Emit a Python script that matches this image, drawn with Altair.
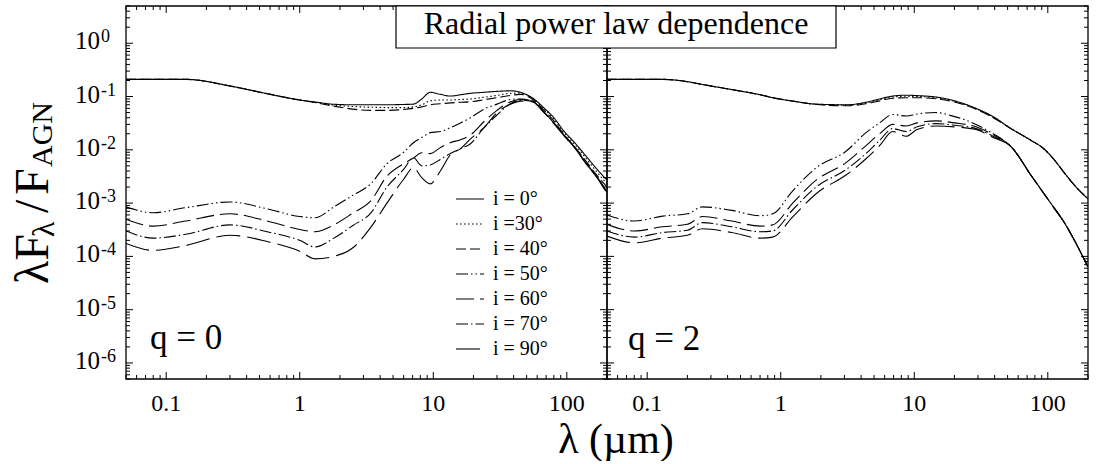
import altair as alt
import pandas as pd

FONT = "Liberation Serif"
W, H = 481, 373
XDOM = [0.05, 200]
YDOM = [5e-7, 5]

series = ["i = 0°", "i =30°", "i = 40°", "i = 50°", "i = 60°", "i = 70°", "i = 90°"]
dash_styles = [[1, 0], [1.5, 2.5], [10, 4], [12, 3, 1.5, 3, 1.5, 3], [18, 6], [12, 3, 1.5, 3], [24, 7]]

# ---------- q = 0 panel ----------
wl_q0 = [0.05, 0.08, 0.14, 0.3, 0.57, 1.0, 1.3, 1.8, 2.5, 3.4, 4.5, 6.0, 7.1, 8.2, 9.5, 11.3,
         13.4, 16, 19, 24, 30, 38, 45, 55, 67, 80, 95, 115, 140, 170, 200]
q0_i0 = [0.21, 0.21, 0.21, 0.158, 0.113, 0.086, 0.079, 0.0716, 0.070, 0.070, 0.070, 0.071, 0.072,
         0.09, 0.12, 0.11, 0.102, 0.108, 0.115, 0.12, 0.125, 0.128, 0.12, 0.095, 0.062, 0.04,
         0.0226, 0.0135, 0.0075, 0.0042, 0.0027]
q0_i30 = [0.21, 0.21, 0.21, 0.158, 0.113, 0.086, 0.078, 0.069, 0.065, 0.063, 0.062, 0.062, 0.064,
          0.07, 0.083, 0.086, 0.086, 0.088, 0.09, 0.097, 0.105, 0.115, 0.116, 0.093, 0.06, 0.038,
          0.021, 0.0125, 0.0068, 0.0037, 0.0023]
q0_i40 = [0.21, 0.21, 0.21, 0.158, 0.113, 0.086, 0.077, 0.066, 0.058, 0.055, 0.055, 0.057, 0.06,
          0.064, 0.07, 0.073, 0.076, 0.078, 0.08, 0.087, 0.095, 0.105, 0.11, 0.09, 0.056, 0.035,
          0.0195, 0.0112, 0.006, 0.0032, 0.002]
q0_i50 = [8.5e-4, 6.6e-4, 8.2e-4, 1.05e-3, 7.8e-4, 5.6e-4, 5.3e-4, 8.5e-4, 1.4e-3, 2.3e-3, 5.5e-3,
          9e-3, 0.0136, 0.017, 0.021, 0.022, 0.026, 0.032, 0.040, 0.058, 0.072, 0.088, 0.09, 0.082,
          0.052, 0.032, 0.019, 0.011, 0.0055, 0.003, 0.0016]
q0_i60 = [5.0e-4, 3.7e-4, 4.6e-4, 6.3e-4, 4.6e-4, 3.2e-4, 2.9e-4, 3.9e-4, 6.5e-4, 1.1e-3, 3.2e-3,
          5.5e-3, 7.0e-3, 8.8e-3, 8.5e-3, 0.011, 0.0136, 0.0155, 0.019, 0.034, 0.055, 0.08, 0.088,
          0.082, 0.052, 0.032, 0.019, 0.011, 0.0055, 0.003, 0.0016]
q0_i70 = [3.0e-4, 2.2e-4, 2.6e-4, 3.9e-4, 2.9e-4, 2.0e-4, 1.5e-4, 2.2e-4, 3.8e-4, 6.5e-4, 2.0e-3,
          4.3e-3, 7.1e-3, 5.0e-3, 5.2e-3, 6.6e-3, 8.5e-3, 0.0105, 0.013, 0.026, 0.045, 0.074, 0.085,
          0.082, 0.052, 0.032, 0.019, 0.011, 0.0055, 0.003, 0.0016]
q0_i90 = [1.75e-4, 1.3e-4, 1.6e-4, 2.5e-4, 1.9e-4, 1.25e-4, 9.0e-5, 1.0e-4, 1.45e-4, 3.5e-4, 1.0e-3,
          2.8e-3, 4.6e-3, 3.0e-3, 2.3e-3, 4.0e-3, 8.0e-3, 0.0105, 0.016, 0.026, 0.05, 0.072, 0.082,
          0.08, 0.051, 0.031, 0.0185, 0.0107, 0.0054, 0.0029, 0.0015]

# ---------- q = 2 panel ----------
wl_q2 = [0.05, 0.08, 0.13, 0.2, 0.26, 0.43, 0.7, 0.87, 1.23, 1.84, 3.1, 4.35, 5.5, 6.9, 8.7, 10.5,
         14.5, 20, 29, 39, 53, 75, 92, 110, 133, 160, 200]
q2_i0 = [0.21, 0.21, 0.21, 0.19, 0.168, 0.135, 0.108, 0.095, 0.082, 0.072, 0.07, 0.078, 0.09, 0.102,
         0.106, 0.104, 0.098, 0.083, 0.06, 0.042, 0.025, 0.015, 0.0108, 0.0068, 0.0037, 0.0021, 0.0012]
q2_i30 = [0.21, 0.21, 0.21, 0.19, 0.168, 0.135, 0.108, 0.095, 0.082, 0.072, 0.069, 0.076, 0.087, 0.098,
          0.101, 0.1, 0.095, 0.081, 0.059, 0.041, 0.025, 0.015, 0.0108, 0.0068, 0.0037, 0.0021, 0.0012]
q2_i40 = [0.21, 0.21, 0.21, 0.19, 0.168, 0.135, 0.108, 0.095, 0.082, 0.071, 0.067, 0.073, 0.083, 0.093,
          0.095, 0.095, 0.091, 0.079, 0.058, 0.04, 0.025, 0.015, 0.0108, 0.0068, 0.0037, 0.0021, 0.0012]
q2_i50 = [6.0e-4, 4.6e-4, 5.7e-4, 6.3e-4, 8.5e-4, 7.3e-4, 5.8e-4, 6.3e-4, 1.7e-3, 4.6e-3, 9.5e-3, 0.021,
          0.032, 0.046, 0.043, 0.047, 0.050, 0.042, 0.030, 0.02, 0.0115, 0.0033, 0.0016, 8.5e-4,
          4.3e-4, 1.9e-4, 6.3e-5]
q2_i60 = [4.0e-4, 3.0e-4, 3.6e-4, 4.0e-4, 5.6e-4, 4.6e-4, 3.7e-4, 3.9e-4, 1.0e-3, 2.7e-3, 5.8e-3, 0.012,
          0.02, 0.03, 0.028, 0.032, 0.035, 0.032, 0.027, 0.019, 0.0115, 0.0033, 0.0016, 8.5e-4,
          4.3e-4, 1.9e-4, 6.3e-5]
q2_i70 = [3.0e-4, 2.3e-4, 2.8e-4, 3.1e-4, 4.3e-4, 3.6e-4, 2.9e-4, 3.0e-4, 7.5e-4, 2.0e-3, 4.3e-3, 8.5e-3,
          0.015, 0.025, 0.022, 0.027, 0.031, 0.029, 0.025, 0.018, 0.0115, 0.0033, 0.0016, 8.5e-4,
          4.3e-4, 1.9e-4, 6.3e-5]
q2_i90 = [2.4e-4, 1.8e-4, 2.2e-4, 2.5e-4, 3.3e-4, 2.8e-4, 2.2e-4, 2.3e-4, 5.5e-4, 1.5e-3, 3.4e-3, 6.8e-3,
          0.012, 0.022, 0.018, 0.024, 0.028, 0.027, 0.024, 0.017, 0.0115, 0.0033, 0.0016, 8.5e-4,
          4.3e-4, 1.9e-4, 6.3e-5]

# ---------- tick values and labels ----------
x_major = [0.1, 1, 10, 100]
x_labels = ["0.1", "1", "10", "100"]
x_minor = [0.05, 0.06, 0.07, 0.08, 0.09, 0.2, 0.3, 0.4, 0.5, 0.6, 0.7, 0.8, 0.9,
           2, 3, 4, 5, 6, 7, 8, 9, 20, 30, 40, 50, 60, 70, 80, 90, 200]
y_major = [1e-6, 1e-5, 1e-4, 1e-3, 1e-2, 1e-1, 1]
y_exp = ["-6", "-5", "-4", "-3", "-2", "-1", "0"]
y_minor = [5e-7, 6e-7, 7e-7, 8e-7, 9e-7] + \
          [2e-6, 3e-6, 4e-6, 5e-6, 6e-6, 7e-6, 8e-6, 9e-6] + \
          [2e-5, 3e-5, 4e-5, 5e-5, 6e-5, 7e-5, 8e-5, 9e-5] + \
          [2e-4, 3e-4, 4e-4, 5e-4, 6e-4, 7e-4, 8e-4, 9e-4] + \
          [2e-3, 3e-3, 4e-3, 5e-3, 6e-3, 7e-3, 8e-3, 9e-3] + \
          [0.02, 0.03, 0.04, 0.05, 0.06, 0.07, 0.08, 0.09] + \
          [0.2, 0.3, 0.4, 0.5, 0.6, 0.7, 0.8, 0.9] + [2, 3, 4, 5]


def long_df(wl, cols):
    rows = []
    for name, ys in zip(series, cols):
        for x, y in zip(wl, ys):
            rows.append({"wl": x, "flux": y, "series": name})
    return pd.DataFrame(rows)


df_q0 = long_df(wl_q0, [q0_i0, q0_i30, q0_i40, q0_i50, q0_i60, q0_i70, q0_i90])
df_q2 = long_df(wl_q2, [q2_i0, q2_i30, q2_i40, q2_i50, q2_i60, q2_i70, q2_i90])

XS = alt.Scale(type="log", domain=XDOM, nice=False)
YS = alt.Scale(type="log", domain=YDOM, nice=False)


def one(text):
    return pd.DataFrame({"t": [text]})


def text_mark(text, x, y, size, align="left", angle=0, baseline="alphabetic"):
    return alt.Chart(one(text)).mark_text(
        font=FONT, fontSize=size, color="black", align=align, baseline=baseline, angle=angle
    ).encode(x=alt.value(x), y=alt.value(y), text="t:N")


def tick_layers():
    layers = []
    for vals, ln in ((x_major, 7), (x_minor, 4)):
        d = pd.DataFrame({"v": vals})
        for y0, y1 in ((H, H - ln), (0, ln)):
            layers.append(alt.Chart(d).mark_rule(color="black", strokeWidth=1).encode(
                x=alt.X("v:Q", scale=XS, axis=None), y=alt.value(y0), y2=alt.value(y1)))
    for vals, ln in ((y_major, 7), (y_minor, 4)):
        d = pd.DataFrame({"v": vals})
        for x0, x1 in ((0, ln), (W, W - ln)):
            layers.append(alt.Chart(d).mark_rule(color="black", strokeWidth=1).encode(
                y=alt.Y("v:Q", scale=YS, axis=None), x=alt.value(x0), x2=alt.value(x1)))
    xl = pd.DataFrame({"v": x_major, "lab": x_labels})
    layers.append(alt.Chart(xl).mark_text(font=FONT, fontSize=24, color="black", align="center",
                                          baseline="alphabetic").encode(
        x=alt.X("v:Q", scale=XS, axis=None), y=alt.value(H + 32), text="lab:N"))
    return layers


def frame():
    return alt.Chart(one("f")).mark_rect(filled=False, stroke="black", strokeWidth=1.3).encode(
        x=alt.value(0), x2=alt.value(W), y=alt.value(0), y2=alt.value(H))


def lines(df, legend):
    return alt.Chart(df).mark_line(strokeWidth=1.1, color="black", clip=True,
                                   interpolate="monotone").encode(
        x=alt.X("wl:Q", scale=XS, axis=None),
        y=alt.Y("flux:Q", scale=YS, axis=None),
        strokeDash=alt.StrokeDash("series:N", scale=alt.Scale(domain=series, range=dash_styles),
                                  legend=legend),
    )


legend_left = alt.Legend(orient="none", legendX=329, legendY=178, title=None, symbolType="stroke",
                         symbolSize=784, symbolStrokeWidth=1.1, symbolStrokeColor="black",
                         labelFont=FONT, labelFontSize=20, labelColor="black", rowPadding=0,
                         labelOffset=8, padding=0)

# y tick labels (10 with superscript exponent)
ylab_df = pd.DataFrame({"v": y_major, "exp": y_exp})
ylab_base = alt.Chart(ylab_df).mark_text(font=FONT, fontSize=25, color="black", align="right",
                                         baseline="alphabetic", dy=6).encode(
    y=alt.Y("v:Q", scale=YS, axis=None), x=alt.value(-26), text=alt.value("10"))
ylab_exp = alt.Chart(ylab_df).mark_text(font=FONT, fontSize=18, color="black", align="left",
                                        baseline="alphabetic", dy=-1).encode(
    y=alt.Y("v:Q", scale=YS, axis=None), x=alt.value(-25), text="exp:N")

ytitle = [
    text_mark("λF", -78, 278, 48, angle=270),
    text_mark("λ", -72, 231, 32, angle=270),
    text_mark("/", -78, 207, 48, angle=270),
    text_mark("F", -78, 189, 48, angle=270),
    text_mark("AGN", -74, 161, 30, angle=270),
]

left = alt.layer(
    lines(df_q0, legend_left),
    *tick_layers(),
    frame(),
    ylab_base, ylab_exp,
    *ytitle,
    text_mark("q = 0", 24, 343, 35),
    text_mark("λ (µm)", 490, 447, 42, align="center"),
).properties(width=W, height=H)

right = alt.layer(
    lines(df_q2, None),
    *tick_layers(),
    frame(),
    text_mark("q = 2", 21, 344, 35),
    alt.Chart(one("box")).mark_rect(fill="white", stroke="black", strokeWidth=1.2).encode(
        x=alt.value(-211), x2=alt.value(229), y=alt.value(0), y2=alt.value(42)),
    text_mark("Radial power law dependence", 9, 28, 32, align="center"),
).properties(width=W, height=H)

chart = alt.hconcat(left, right, spacing=0, bounds="flush").resolve_scale(
    strokeDash="independent"
).properties(
    padding={"left": 10, "top": 5, "right": 5, "bottom": 0},
    background="white",
).configure_view(strokeWidth=0)

chart.save("out.html", embed_options={"renderer": "svg", "actions": False})
